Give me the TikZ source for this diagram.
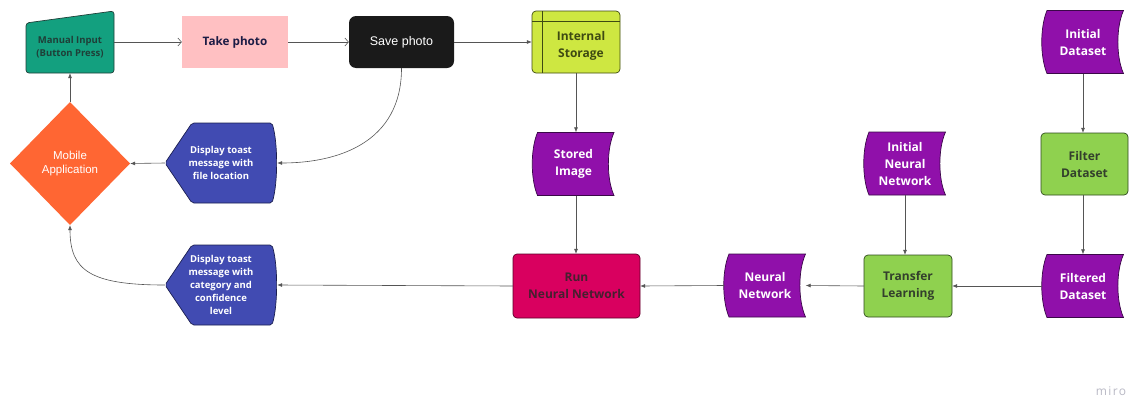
\documentclass[tikz,border=0pt]{standalone}
\usepackage{fontspec}
\setmainfont{Open Sans}
\newfontfamily\arialf{Liberation Sans}
\usetikzlibrary{arrows.meta}
\definecolor{teal1}{HTML}{13A07F}
\definecolor{teald}{HTML}{1F3F38}
\definecolor{pink1}{HTML}{FFC0C2}
\definecolor{navyt}{HTML}{1C1C45}
\definecolor{blk}{HTML}{1A1A1A}
\definecolor{lime1}{HTML}{CEE741}
\definecolor{limed}{HTML}{3E4A12}
\definecolor{purp}{HTML}{9010AA}
\definecolor{purpd}{HTML}{3A0848}
\definecolor{grn}{HTML}{8FD14F}
\definecolor{grnd}{HTML}{2E4A1C}
\definecolor{grnt}{HTML}{33402C}
\definecolor{crim}{HTML}{D9005F}
\definecolor{crimd}{HTML}{5A0028}
\definecolor{crimt}{HTML}{45202F}
\definecolor{blu}{HTML}{414BB2}
\definecolor{blud}{HTML}{1A1E50}
\definecolor{orng}{HTML}{FF6633}
\definecolor{lnc}{HTML}{555555}
\definecolor{wm}{HTML}{B8B8C4}
\newcommand\stdata[2]{%
  \begin{scope}[shift={(#1,#2)}]
    \filldraw[fill=purp,draw=purpd,line width=0.7pt]
      (-36,-31.5) -- (40.5,-31.5) .. controls (33,-15) and (33,15) .. (40.5,31.5)
      -- (-36,31.5) .. controls (-43,15) and (-43,-15) .. (-36,-31.5) -- cycle;
  \end{scope}}
\newcommand\toastshape[2]{%
  \begin{scope}[shift={(#1,#2)}]
    \filldraw[fill=blu,draw=blud,line width=0.7pt,rounded corners=2pt]
      (-56,0) -- (-29,-40) -- (51,-40) .. controls (57,-20) and (57,20) .. (51,40)
      -- (-29,40) -- cycle;
  \end{scope}}
\begin{document}
\begin{tikzpicture}[x=1pt,y=-1pt,
  box/.style={inner sep=0pt,align=center},
  conn/.style={draw=lnc,line width=0.6pt,-{Latex[length=5pt,width=4pt]}},
  oconn/.style={draw=lnc,line width=0.6pt,-{Straight Barb[length=3.5pt,width=8pt]}},
  wtxt/.style={text=white,font=\bfseries\fontsize{12}{17}\selectfont},
  ttxt/.style={text=white,font=\bfseries\fontsize{9.5}{13}\selectfont},
  gtxt/.style={text=grnt,font=\bfseries\fontsize{12}{17}\selectfont}]
\useasboundingbox (0,0) rectangle (1137,399);
% ---------- shapes ----------
\filldraw[fill=teal1,draw=teald,line width=0.7pt,rounded corners=3pt]
  (26,23) -- (114,11) -- (114,73) -- (26,73) -- cycle;
\fill[pink1] (182,16) rectangle (288,68);
\fill[blk,rounded corners=7pt] (349,16) rectangle (454,68);
\filldraw[fill=lime1,draw=limed,line width=0.7pt,rounded corners=4pt] (532,11) rectangle (620,73);
\draw[limed,line width=0.7pt] (532,21) -- (620,21) (542,11) -- (542,73);
\stdata{1083}{42}
\filldraw[fill=grn,draw=grnd,line width=0.7pt,rounded corners=4pt] (1041,133) rectangle (1128,195);
\stdata{1083}{286}
\stdata{905}{163.5}
\filldraw[fill=grn,draw=grnd,line width=0.7pt,rounded corners=4pt] (864,255) rectangle (952,317);
\stdata{765}{285.5}
\filldraw[fill=crim,draw=crimd,line width=0.7pt,rounded corners=4pt] (513,254) rectangle (640,318);
\stdata{573.5}{164}
\toastshape{221}{163}
\toastshape{221}{285}
\fill[orng] (70,102) -- (130,163.5) -- (70,225) -- (10,163.5) -- cycle;
% ---------- nodes ----------
\node[box,minimum width=88pt,minimum height=62pt,
  label={[yshift=-5pt,text=teald,font=\bfseries\fontsize{9.5}{13}\selectfont,align=center]center:Manual Input\\(Button Press)}] (mi) at (70,42) {};
\node[box,minimum width=106pt,minimum height=52pt,text=navyt,font=\bfseries\fontsize{11.7}{14}\selectfont] (tp) at (235,42) {Take photo};
\node[box,minimum width=105pt,minimum height=52pt,text=white,font=\arialf\fontsize{12.5}{15}\selectfont] (sp) at (401.5,42) {Save photo};
\node[box,minimum width=88pt,minimum height=62pt,text=limed,
  label={[yshift=-4pt,xshift=5pt,text=limed,font=\bfseries\fontsize{12}{17}\selectfont,align=center]center:Internal\\Storage}] (is) at (576,42) {};
\node[box,minimum width=81pt,minimum height=63pt,wtxt] (id) at (1083,42) {Initial\\Dataset};
\node[box,minimum width=87pt,minimum height=62pt,gtxt] (fd) at (1084.5,164) {Filter\\Dataset};
\node[box,minimum width=81pt,minimum height=63pt,wtxt] (fdd) at (1083,286) {Filtered\\Dataset};
\node[box,minimum width=81pt,minimum height=63pt,wtxt] (inn) at (905,163.5) {Initial\\Neural\\Network};
\node[box,minimum width=88pt,minimum height=62pt,gtxt] (tl) at (908,286) {Transfer\\Learning};
\node[box,minimum width=81pt,minimum height=63pt,wtxt] (nn) at (765,285.5) {Neural\\Network};
\node[box,minimum width=127pt,minimum height=64pt,text=crimt,font=\bfseries\fontsize{12}{17}\selectfont] (rnn) at (576.5,286) {Run\\Neural Network};
\node[box,minimum width=81pt,minimum height=63pt,wtxt] (si) at (573.5,164) {Stored\\Image};
\node[box,minimum width=112pt,minimum height=80pt,ttxt] (t1) at (221,163) {Display toast\\message with\\file location};
\node[box,minimum width=112pt,minimum height=80pt,ttxt] (t2) at (221,285) {Display toast\\message with\\category and\\confidence\\level};
\node[box,minimum width=120pt,minimum height=123pt,text=white,font=\arialf\fontsize{11.5}{13.5}\selectfont] (ma) at (70,163.5) {Mobile\\Application};
\node[inner sep=0pt,text=wm,font=\fontsize{12}{14}\selectfont\addfontfeature{LetterSpace=12}] (wmk) at (1111,391) {miro};
% ---------- connectors ----------
\draw[oconn] (mi.east) -- (tp.west);
\draw[oconn] (tp.east) -- (sp.west);
\draw[conn] (sp.east) -- (is.west);
\draw[conn] (sp.south) .. controls +(0,75) and +(60,0) .. (t1.east);
\draw[conn] (t1.west) -- (ma.east);
\draw[conn] (ma.north) -- (mi.south);
\draw[conn] (t2.west) .. controls +(-75,0) and +(0,45) .. (ma.south);
\draw[conn] (rnn.west) -- (t2.east);
\draw[conn] (is.south) -- (si.north -| is.south);
\draw[conn] (si.south -| is.south) -- (rnn.north -| is.south);
\draw[conn] (nn.west) -- (rnn.east);
\draw[conn] (tl.west) -- (nn.east);
\draw[conn] (fdd.west) -- (tl.east);
\draw[conn] (inn.south) -- (tl.north -| inn.south);
\draw[conn] (id.south) -- (fd.north -| id.south);
\draw[conn] (fd.south -| id.south) -- (fdd.north);
\end{tikzpicture}
\end{document}
